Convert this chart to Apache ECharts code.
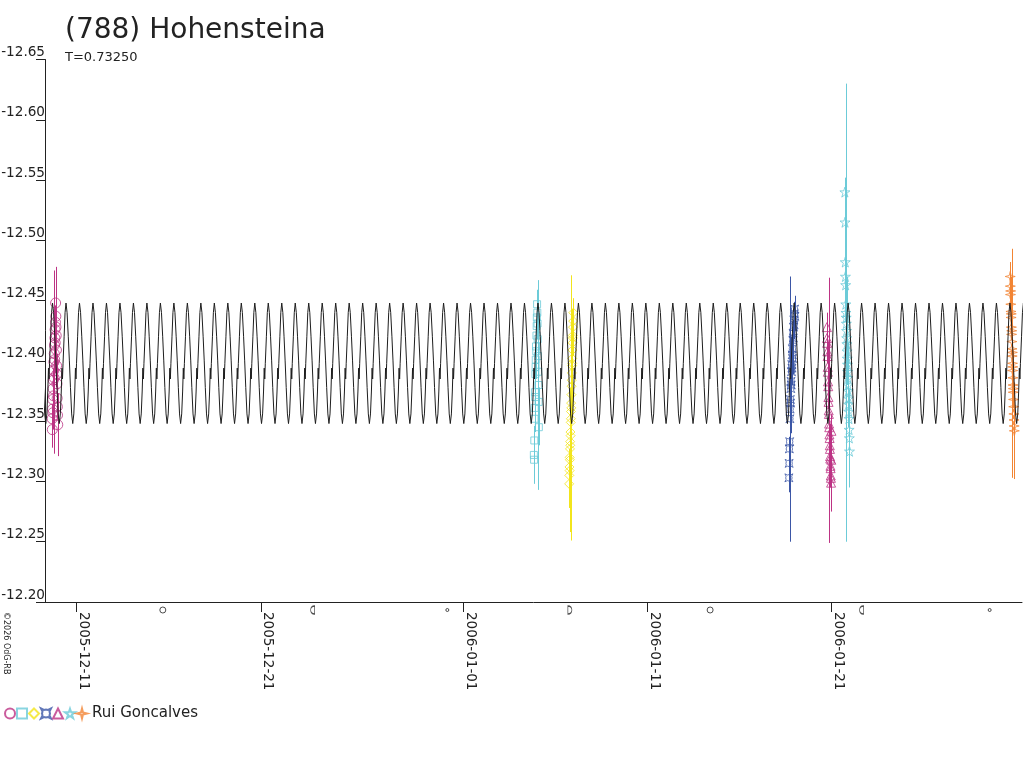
<!DOCTYPE html>
<html>
<head>
<meta charset="utf-8">
<script src="https://cdn.jsdelivr.net/npm/echarts@6/dist/echarts.min.js"></script>
<style>
html, body { margin: 0; padding: 0; background: #fff; }
#chart { width: 1024px; height: 768px; }
</style>
</head>
<body>
<div id="chart"></div>
<script>
// axis range and ticks
var xMin = Date.parse('2005-12-09T06:40:00Z');
var xMax = Date.parse('2006-01-31T08:24:00Z');
var dateTicks = ['2005-12-11', '2005-12-21', '2006-01-01', '2006-01-11', '2006-01-21'];

// model lightcurve, one period (T = 0.73250 d), phase 0 = maximum
var period = 0.73250;
var modelEpoch = '2005-12-10T10:03:00Z';
var modelPhase = [0, 0.08, 0.17, 0.25, 0.33, 0.42, 0.50, 0.58, 0.65, 0.70, 0.74, 0.78, 0.86, 0.93];
var modelMag = [-12.448, -12.440, -12.420, -12.400, -12.378, -12.356, -12.348, -12.356, -12.375, -12.394, -12.385, -12.398, -12.420, -12.440];

// moon phases under the axis
var moonDates = ['2005-12-15T16:16:00Z', '2005-12-23T19:36:00Z', '2005-12-31T03:12:00Z', '2006-01-06T18:56:00Z',
                 '2006-01-14T09:48:00Z', '2006-01-22T15:14:00Z', '2006-01-29T14:15:00Z'];
var moonKinds = ['full', 'last', 'new', 'first', 'full', 'last', 'new'];

// sessions: start, hours after start, magnitude, error
var s1Start = '2005-12-09T16:00:00Z';
var s1Hours = [0.0, 0.2, 0.5, 0.8, 1.0, 1.2, 1.5, 1.8, 2.1, 2.3, 2.5, 2.8, 3.0, 3.3, 3.6, 3.8, 4.0, 4.3, 4.5, 4.8, 5.0, 5.3, 5.6, 5.8, 6.0, 6.3, 6.5, 6.8, 7.0, 7.3];
var s1Mag = [-12.352, -12.343, -12.360, -12.368, -12.357, -12.377, -12.384, -12.371, -12.392, -12.399, -12.386, -12.406, -12.413, -12.401, -12.419,
             -12.426, -12.415, -12.432, -12.448, -12.437, -12.428, -12.421, -12.409, -12.396, -12.389, -12.381, -12.369, -12.362, -12.355, -12.347];
var s1Err = [0.012, 0.015, 0.010, 0.011, 0.014, 0.009, 0.010, 0.013, 0.011, 0.076, 0.012, 0.010, 0.009, 0.011, 0.013,
             0.010, 0.012, 0.014, 0.010, 0.009, 0.050, 0.013, 0.012, 0.010, 0.015, 0.011, 0.012, 0.010, 0.013, 0.026];

var s2Start = '2006-01-04T20:00:00Z';
var s2Hours = [0.0, 0.3, 0.6, 0.9, 1.1, 1.4, 1.7, 2.0, 2.3, 2.5, 2.8, 3.1, 3.4, 3.7, 3.9, 4.2, 4.5, 4.8, 5.0, 5.3, 5.6, 5.9, 6.2, 6.5];
var s2Mag = [-12.322, -12.318, -12.334, -12.352, -12.361, -12.374, -12.370, -12.389, -12.395, -12.401, -12.412, -12.408,
             -12.421, -12.429, -12.436, -12.447, -12.440, -12.431, -12.418, -12.404, -12.391, -12.380, -12.366, -12.345];
var s2Err = [0.018, 0.020, 0.012, 0.011, 0.010, 0.012, 0.012, 0.011, 0.010, 0.009, 0.011, 0.012,
             0.010, 0.011, 0.013, 0.012, 0.010, 0.011, 0.012, 0.010, 0.011, 0.087, 0.012, 0.015];

var s3Start = '2006-01-06T18:00:00Z';
var s3Hours = [0.0, 0.2, 0.4, 0.6, 0.7, 0.9, 1.1, 1.3, 1.5, 1.7, 1.9, 2.1, 2.3, 2.4, 2.6, 2.8, 3.0, 3.2, 3.4, 3.6, 3.8, 4.0, 4.1, 4.3, 4.5, 4.7, 4.9, 5.1, 5.3, 5.5];
var s3Mag = [-12.298, -12.305, -12.312, -12.309, -12.320, -12.318, -12.327, -12.333, -12.330, -12.341, -12.338, -12.349, -12.352, -12.358, -12.365,
             -12.361, -12.372, -12.379, -12.384, -12.390, -12.396, -12.402, -12.398, -12.409, -12.415, -12.421, -12.419, -12.428, -12.433, -12.440];
var s3Err = [0.020, 0.016, 0.015, 0.018, 0.014, 0.060, 0.013, 0.015, 0.012, 0.014, 0.055, 0.013, 0.012, 0.105, 0.014,
             0.110, 0.013, 0.012, 0.014, 0.011, 0.013, 0.012, 0.045, 0.012, 0.011, 0.013, 0.012, 0.011, 0.013, 0.012];

var s4Start = '2006-01-18T16:30:00Z';
var s4Hours = [0.0, 0.3, 0.6, 1.0, 1.3, 1.6, 1.9, 2.2, 2.5, 2.8, 3.1, 3.4, 3.7, 4.0, 4.3, 4.6, 4.9, 5.2, 5.5, 5.8, 6.1, 6.4, 6.8, 7.1, 7.4, 7.8];
var s4Mag = [-12.303, -12.315, -12.327, -12.333, -12.352, -12.360, -12.368, -12.365, -12.377, -12.383, -12.380, -12.391, -12.397,
             -12.394, -12.405, -12.410, -12.402, -12.417, -12.423, -12.419, -12.428, -12.434, -12.430, -12.439, -12.443, -12.437];
var s4Err = [0.012, 0.011, 0.010, 0.012, 0.011, 0.110, 0.012, 0.010, 0.011, 0.013, 0.040, 0.011, 0.012,
             0.010, 0.011, 0.012, 0.013, 0.010, 0.011, 0.012, 0.010, 0.011, 0.012, 0.010, 0.011, 0.012];

var s5Start = '2006-01-20T18:00:00Z';
var s5Hours = [0.0, 0.2, 0.4, 0.7, 0.9, 1.1, 1.3, 1.6, 1.8, 2.0, 2.2, 2.4, 2.7, 2.9, 3.1, 3.3, 3.6, 3.8, 4.0, 4.2, 4.4, 4.7, 4.9, 5.1, 5.3, 5.5, 5.8, 6.0];
var s5Mag = [-12.428, -12.419, -12.415, -12.408, -12.404, -12.395, -12.391, -12.383, -12.379, -12.370, -12.366, -12.359, -12.356, -12.348,
             -12.345, -12.339, -12.336, -12.330, -12.327, -12.321, -12.319, -12.313, -12.311, -12.305, -12.303, -12.299, -12.318, -12.342];
var s5Err = [0.012, 0.011, 0.013, 0.010, 0.012, 0.011, 0.013, 0.012, 0.011, 0.010, 0.012, 0.110, 0.011, 0.012,
             0.013, 0.011, 0.012, 0.013, 0.014, 0.015, 0.016, 0.018, 0.020, 0.025, 0.028, 0.022, 0.015, 0.013];

var s6Start = '2006-01-21T17:30:00Z';
var s6Hours = [0.0, 0.2, 0.5, 0.7, 1.0, 1.2, 1.4, 1.7, 1.9, 2.2, 2.4, 2.6, 2.9, 3.1, 3.4, 3.6, 3.8, 4.1, 4.3, 4.6, 4.8, 5.0, 5.3, 5.5, 5.8, 6.0];
var s6Mag = [-12.540, -12.515, -12.482, -12.470, -12.463, -12.447, -12.440, -12.436, -12.431, -12.425, -12.419, -12.414, -12.408,
             -12.402, -12.397, -12.391, -12.386, -12.380, -12.375, -12.369, -12.364, -12.358, -12.352, -12.343, -12.336, -12.325];
var s6Err = [0.012, 0.014, 0.050, 0.013, 0.040, 0.012, 0.190, 0.011, 0.013, 0.045, 0.012, 0.011, 0.013,
             0.012, 0.011, 0.013, 0.012, 0.035, 0.011, 0.013, 0.012, 0.011, 0.013, 0.012, 0.011, 0.030];

var s7Start = '2006-01-30T17:00:00Z';
var s7Hours = [0.0, 0.2, 0.4, 0.6, 0.8, 1.0, 1.2, 1.4, 1.6, 1.8, 2.0, 2.2, 2.4, 2.6, 2.8, 3.0, 3.2, 3.4, 3.6, 3.8, 4.0, 4.2, 4.4, 4.6, 4.8, 5.0, 5.2, 5.4];
var s7Mag = [-12.470, -12.462, -12.455, -12.458, -12.447, -12.441, -12.436, -12.439, -12.428, -12.422, -12.425, -12.416, -12.410, -12.404,
             -12.407, -12.398, -12.392, -12.395, -12.386, -12.380, -12.374, -12.377, -12.368, -12.362, -12.356, -12.351, -12.346, -12.342];
var s7Err = [0.012, 0.013, 0.011, 0.012, 0.014, 0.011, 0.013, 0.012, 0.011, 0.013, 0.012, 0.011, 0.013, 0.012,
             0.011, 0.095, 0.012, 0.013, 0.011, 0.012, 0.013, 0.011, 0.012, 0.013, 0.011, 0.012, 0.013, 0.040];

var observer = 'Rui Goncalves';

var symStar5 = 'path://M5,0 L6.2,3.6 L10,3.6 L6.9,5.9 L8.1,9.5 L5,7.3 L1.9,9.5 L3.1,5.9 L0,3.6 L3.8,3.6 Z';
var symStar4 = 'path://M5,0 L6,4 L10,5 L6,6 L5,10 L4,6 L0,5 L4,4 Z';
var symPinch = 'path://M0,0 L3,1.5 L5,1 L7,1.5 L10,0 L8.5,3 L9,5 L8.5,7 L10,10 L7,8.5 L5,9 L3,8.5 L0,10 L1.5,7 L1,5 L1.5,3 Z';

var sessions = [
    {name: 's1', start: s1Start, hours: s1Hours, mag: s1Mag, err: s1Err, color: '#bd3384', symbol: 'circle', size: 10},
    {name: 's2', start: s2Start, hours: s2Hours, mag: s2Mag, err: s2Err, color: '#6ccbd8', symbol: 'rect', size: 7},
    {name: 's3', start: s3Start, hours: s3Hours, mag: s3Mag, err: s3Err, color: '#f2e51c', symbol: 'diamond', size: 9},
    {name: 's4', start: s4Start, hours: s4Hours, mag: s4Mag, err: s4Err, color: '#3b56a6', symbol: symPinch, size: 8},
    {name: 's5', start: s5Start, hours: s5Hours, mag: s5Mag, err: s5Err, color: '#bd3384', symbol: 'triangle', size: 9},
    {name: 's6', start: s6Start, hours: s6Hours, mag: s6Mag, err: s6Err, color: '#6ccbd8', symbol: symStar5, size: 10},
    {name: 's7', start: s7Start, hours: s7Hours, mag: s7Mag, err: s7Err, color: '#f28534', symbol: symStar4, size: 10}
];

var FONT = '"DejaVu Sans", sans-serif';
var DAY = 86400000;

function sessionData(s) {
    var t0 = Date.parse(s.start);
    var out = [];
    for (var i = 0; i < s.mag.length; i++) {
        out.push([t0 + s.hours[i] * 3600000, s.mag[i], s.err[i]]);
    }
    return out;
}

// model curve built by repeating the one-period shape
var modelData = [];
var ep = Date.parse(modelEpoch);
var P = period * DAY;
for (var k = Math.floor((xMin - ep) / P) - 1; ep + k * P < xMax + P; k++) {
    for (var j = 0; j < modelPhase.length; j++) {
        modelData.push([ep + (k + modelPhase[j]) * P, modelMag[j]]);
    }
}

var moonSymbols = {
    full: {symbol: 'circle', size: 6},
    'new': {symbol: 'circle', size: 3},
    first: {symbol: 'path://M0,0 L0,10 C6,10 6,0 0,0 Z', size: [4, 8]},
    last: {symbol: 'path://M6,0 L6,10 C0,10 0,0 6,0 Z', size: [4, 8]}
};
var moonData = moonDates.map(function (d, i) {
    var m = moonSymbols[moonKinds[i]];
    return {value: [Date.parse(d), 0.5], symbol: m.symbol, symbolSize: m.size};
});

var tickValues = dateTicks.map(function (d) { return Date.parse(d + 'T00:00:00Z'); });

function pad(n) { return n < 10 ? '0' + n : '' + n; }

var series = [];
sessions.forEach(function (s) {
    var c = s.color;
    series.push({
        type: 'custom',
        name: s.name + '-err',
        data: sessionData(s),
        z: 2,
        silent: true,
        renderItem: function (params, api) {
            var t = api.value(0), m = api.value(1), e = api.value(2);
            var a = api.coord([t, m - e]);
            var b = api.coord([t, m + e]);
            return {
                type: 'line',
                shape: {x1: Math.round(a[0]) + 0.5, y1: a[1], x2: Math.round(b[0]) + 0.5, y2: b[1]},
                style: {stroke: c, lineWidth: 1}
            };
        }
    });
});
sessions.forEach(function (s) {
    series.push({
        type: 'scatter',
        name: s.name,
        data: sessionData(s),
        symbol: s.symbol,
        symbolSize: s.size,
        z: 3,
        itemStyle: {color: 'rgba(255,255,255,0)', borderColor: s.color, borderWidth: 1}
    });
});
series.push({
    type: 'line',
    name: 'model',
    data: modelData,
    showSymbol: false,
    z: 4,
    lineStyle: {color: '#1e1e1e', width: 1}
});
series.push({
    type: 'scatter',
    name: 'moon',
    xAxisIndex: 1,
    yAxisIndex: 1,
    data: moonData,
    itemStyle: {color: 'rgba(255,255,255,0)', borderColor: '#222', borderWidth: 1}
});

var chart = echarts.init(document.getElementById('chart'));
chart.setOption({
    animation: false,
    backgroundColor: '#fff',
    textStyle: {fontFamily: FONT},
    title: {
        text: '(788) Hohensteina',
        subtext: 'T=0.73250',
        left: 65,
        top: 17,
        padding: 0,
        itemGap: 6,
        textStyle: {fontFamily: FONT, fontSize: 28, fontWeight: 'normal', color: '#222'},
        subtextStyle: {fontFamily: FONT, fontSize: 13, color: '#222'}
    },
    legend: {
        data: sessions.map(function (s) { return s.name; }),
        left: 4,
        top: 706,
        padding: 0,
        itemWidth: 10,
        itemHeight: 10,
        itemGap: 0,
        selectedMode: false,
        formatter: function (name) { return name === sessions[sessions.length - 1].name ? observer : ''; },
        textStyle: {fontFamily: FONT, fontSize: 15, color: '#222'}
    },
    grid: [
        {left: 45, top: 59.5, width: 977, height: 542.5, outerBoundsMode: 'none'},
        {left: 45, top: 603, width: 977, height: 14, outerBoundsMode: 'none'}
    ],
    xAxis: [{
        type: 'value',
        gridIndex: 0,
        min: xMin,
        max: xMax,
        splitLine: {show: false},
        axisLine: {lineStyle: {color: '#222', width: 1}},
        axisTick: {customValues: tickValues, length: 10, lineStyle: {color: '#222'}},
        axisLabel: {
            customValues: tickValues,
            rotate: -90,
            margin: 10,
            verticalAlign: 'bottom',
            fontSize: 13.5,
            color: '#222',
            formatter: function (v) {
                var d = new Date(v);
                return d.getUTCFullYear() + '-' + pad(d.getUTCMonth() + 1) + '-' + pad(d.getUTCDate());
            }
        }
    }, {
        type: 'value',
        gridIndex: 1,
        min: xMin,
        max: xMax,
        show: false
    }],
    yAxis: [{
        type: 'value',
        gridIndex: 0,
        inverse: true,
        min: -12.65,
        max: -12.20,
        interval: 0.05,
        splitLine: {show: false},
        axisLine: {show: true, lineStyle: {color: '#222', width: 1}},
        axisTick: {show: true, length: 9, lineStyle: {color: '#222'}},
        axisLabel: {
            margin: 0,
            verticalAlign: 'bottom',
            fontSize: 13.6,
            color: '#222',
            showMinLabel: true,
            showMaxLabel: true,
            formatter: function (v) { return v.toFixed(2); }
        }
    }, {
        type: 'value',
        gridIndex: 1,
        min: 0,
        max: 1,
        show: false
    }],
    graphic: [{
        type: 'text',
        x: 2,
        y: 612,
        rotation: -Math.PI / 2,
        style: {text: '\u00a92026 OdG-RB', font: '8px ' + FONT, fill: '#222', verticalAlign: 'bottom'}
    }],
    series: series
});
</script>
</body>
</html>
